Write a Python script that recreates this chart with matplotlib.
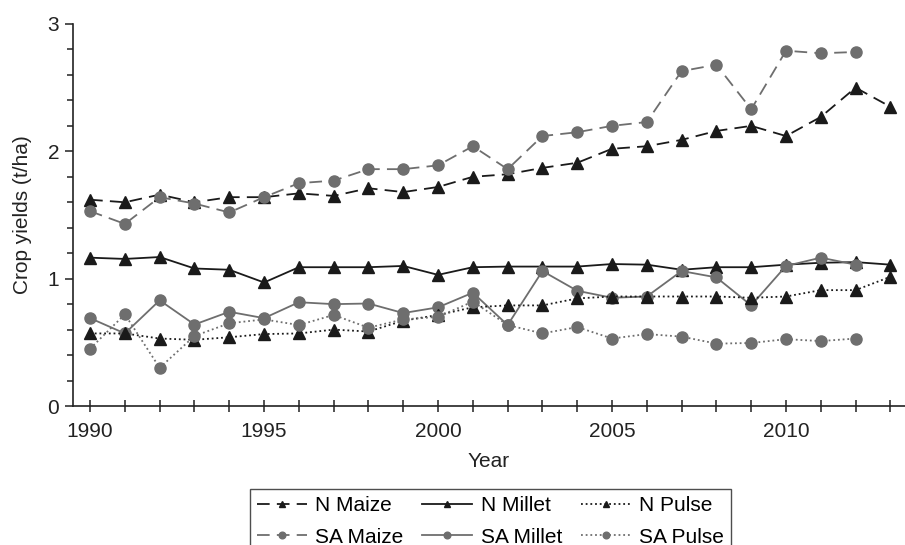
import matplotlib
matplotlib.use("Agg")
import matplotlib.pyplot as plt
from matplotlib.ticker import MultipleLocator

plt.rcParams["font.family"] = ["Liberation Sans", "DejaVu Sans"]

years = list(range(1990, 2014))
years_sa = list(range(1990, 2013))

n_maize = [1.62, 1.60, 1.66, 1.60, 1.64, 1.64, 1.67, 1.65, 1.71, 1.68, 1.72, 1.80,
           1.82, 1.87, 1.91, 2.02, 2.04, 2.09, 2.16, 2.20, 2.12, 2.27, 2.50, 2.35]
n_millet = [1.165, 1.155, 1.17, 1.08, 1.07, 0.97, 1.09, 1.09, 1.09, 1.10, 1.03, 1.09,
            1.095, 1.095, 1.095, 1.115, 1.11, 1.07, 1.09, 1.09, 1.11, 1.125, 1.13, 1.11]
n_pulse = [0.57, 0.57, 0.53, 0.52, 0.54, 0.565, 0.57, 0.60, 0.585, 0.67, 0.715, 0.775,
           0.79, 0.79, 0.845, 0.86, 0.86, 0.86, 0.86, 0.85, 0.86, 0.91, 0.91, 1.015]
sa_maize = [1.53, 1.43, 1.64, 1.59, 1.52, 1.64, 1.75, 1.77, 1.86, 1.86, 1.89, 2.04,
            1.86, 2.12, 2.15, 2.20, 2.23, 2.63, 2.68, 2.33, 2.79, 2.77, 2.78]
sa_millet = [0.69, 0.57, 0.83, 0.64, 0.74, 0.69, 0.815, 0.80, 0.805, 0.73, 0.775, 0.89,
             0.636, 1.06, 0.905, 0.85, 0.86, 1.06, 1.01, 0.79, 1.10, 1.165, 1.11]
sa_pulse = [0.45, 0.72, 0.30, 0.55, 0.65, 0.68, 0.636, 0.715, 0.615, 0.68, 0.70, 0.82,
            0.636, 0.57, 0.62, 0.53, 0.565, 0.545, 0.49, 0.495, 0.525, 0.51, 0.53]

BLACK = "#1a1a1a"
GREY = "#6e6e6e"
INK = "#222222"

fig = plt.figure(figsize=(9.05, 5.45), dpi=100)
ax = fig.add_axes([0.0807, 0.255, 0.9193, 0.701])

tri = dict(marker="^", markersize=8, lw=1.3, color=BLACK)
dot = dict(marker="o", markersize=8, lw=1.3, color=GREY)

ax.plot(years, n_maize, dashes=(7, 4), label="N Maize", **tri)
ax.plot(years_sa, sa_maize, dashes=(7, 4), label="SA Maize", **dot)
ax.plot(years, n_millet, ls="-", label="N Millet", **tri)
ax.plot(years_sa, sa_millet, ls="-", label="SA Millet", **dot)
ax.plot(years, n_pulse, dashes=(1, 1.6), label="N Pulse", **tri)
ax.plot(years_sa, sa_pulse, dashes=(1, 1.6), label="SA Pulse", **dot)

ax.set_xlim(1989.51, 2013.42)
ax.set_ylim(0, 3)
ax.xaxis.set_major_locator(MultipleLocator(5))
ax.xaxis.set_minor_locator(MultipleLocator(1))
ax.yaxis.set_major_locator(MultipleLocator(1))
ax.yaxis.set_minor_locator(MultipleLocator(0.2))

for side in ("top", "right"):
    ax.spines[side].set_visible(False)
for side in ("left", "bottom"):
    ax.spines[side].set_linewidth(1.2)
    ax.spines[side].set_color(INK)

ax.tick_params(axis="x", which="both", direction="inout", length=9, width=1.1,
               labelsize=15, colors=INK, pad=7)
ax.tick_params(axis="y", which="major", direction="out", length=6, width=1.1,
               labelsize=15, colors=INK, pad=4)
ax.tick_params(axis="y", which="minor", direction="out", length=4, width=1.1, colors=INK)

ax.set_xlabel("Year", fontsize=15, color=INK, labelpad=8)
ax.set_ylabel("Crop yields (t/ha)", fontsize=15, color=INK, labelpad=11)

leg = fig.legend(loc="upper center", bbox_to_anchor=(0.542, 0.103), ncol=3,
                 fontsize=15, frameon=True, fancybox=False, handlelength=2.4,
                 columnspacing=0.9, handletextpad=0.4, labelspacing=0.6,
                 borderpad=0.35, borderaxespad=0, markerscale=0.6)
leg.get_frame().set_edgecolor(INK)
leg.get_frame().set_linewidth(1.0)

fig.savefig("out.png", dpi=100)
